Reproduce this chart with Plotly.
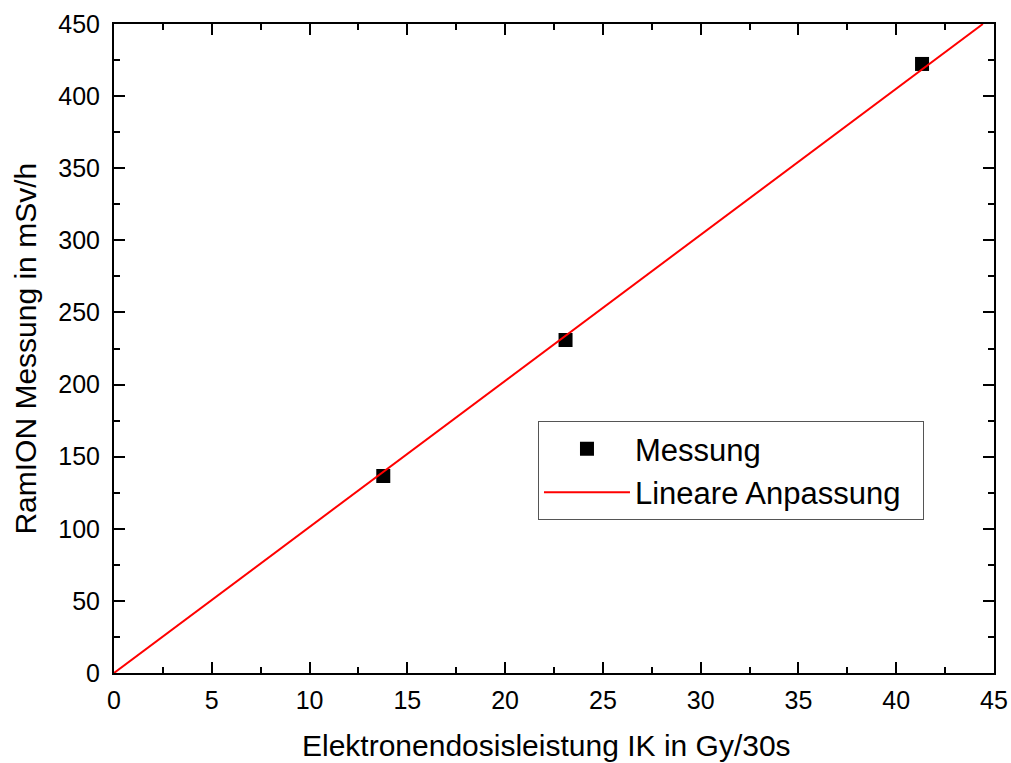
import plotly.graph_objects as go

# Data
mess_x = [13.77, 23.09, 41.32]
mess_y = [136.6, 230.9, 422.3]
fit_x = [0, 44.43]
fit_y = [0, 450]

x_ticks = [0, 5, 10, 15, 20, 25, 30, 35, 40, 45]
y_ticks = [0, 50, 100, 150, 200, 250, 300, 350, 400, 450]

x_title = "Elektronendosisleistung IK in Gy/30s"
y_title = "RamION Messung in mSv/h"

FONT = "Liberation Sans, Arial, sans-serif"
NB = "\u00a0"

fig = go.Figure()
fig.add_trace(go.Scatter(
    x=mess_x, y=mess_y, mode="markers", name="Messung",
    marker=dict(symbol="square", size=14, color="black"),
))
fig.add_trace(go.Scatter(
    x=fit_x, y=fit_y, mode="lines", name="Lineare Anpassung" + NB * 2,
    line=dict(color="red", width=2),
))

axis_common = dict(
    showline=True, linecolor="black", linewidth=2, mirror="allticks",
    ticks="inside", ticklen=11, tickwidth=2, tickcolor="black",
    showgrid=False, zeroline=False, automargin=False,
    tickfont=dict(family=FONT, size=25, color="black"),
)

fig.update_xaxes(
    range=[0, 45], tickvals=x_ticks, ticklabelstandoff=4,
    minor=dict(ticks="inside", ticklen=6, tickwidth=2, tickcolor="black", dtick=2.5, showgrid=False),
    **axis_common,
)
fig.update_yaxes(
    range=[0, 450], tickvals=y_ticks, ticklabelstandoff=7,
    minor=dict(ticks="inside", ticklen=6, tickwidth=2, tickcolor="black", dtick=25, showgrid=False),
    **axis_common,
)

fig.add_annotation(
    text=x_title, xref="paper", yref="paper", x=0.492, y=-0.111,
    xanchor="center", yanchor="middle", showarrow=False,
    font=dict(family=FONT, size=30, color="black"),
)
fig.add_annotation(
    text=y_title, xref="paper", yref="paper", x=-0.101, y=0.5,
    xanchor="center", yanchor="middle", showarrow=False, textangle=-90,
    font=dict(family=FONT, size=30, color="black"),
)

fig.update_layout(
    width=1011, height=763,
    margin=dict(l=114, r=17, t=24, b=90),
    plot_bgcolor="white", paper_bgcolor="white",
    showlegend=True,
    legend=dict(
        x=0.4818, y=0.388, xanchor="left", yanchor="top",
        bgcolor="white", bordercolor="#555555", borderwidth=1,
        font=dict(family=FONT, size=31, color="black"),
        itemwidth=86, tracegroupgap=0,
    ),
)

fig.write_html(
    "out.html",
    config={"displayModeBar": False},
    post_script="document.body.style.margin='0';document.body.style.overflow='hidden';",
)
